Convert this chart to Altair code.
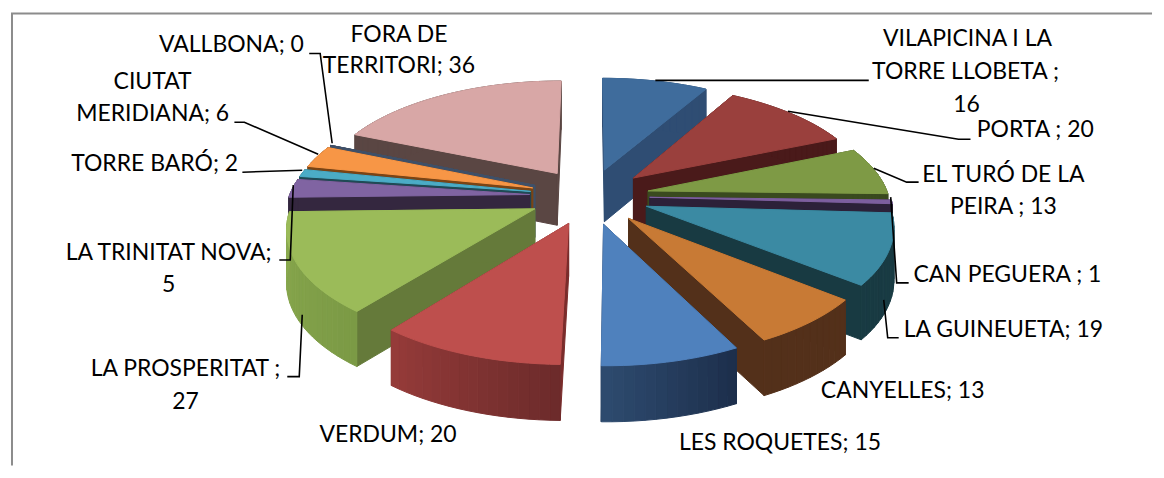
import numpy as np
import pandas as pd
import altair as alt

# ---- data ----
names = ["VILAPICINA I LA TORRE LLOBETA", "PORTA", "EL TURÓ DE LA PEIRA", "CAN PEGUERA",
         "LA GUINEUETA", "CANYELLES", "LES ROQUETES", "VERDUM", "LA PROSPERITAT",
         "LA TRINITAT NOVA", "TORRE BARÓ", "CIUTAT MERIDIANA", "VALLBONA", "FORA DE TERRITORI"]
values = [16, 20, 13, 1, 19, 13, 15, 20, 27, 5, 2, 6, 0, 36]

# ---- styles ----
top_colors = ["#3F6C9C", "#9A403D", "#7E9A45", "#7D5F9F", "#3B8AA3", "#C87A35", "#4F81BD",
              "#BE4F4D", "#9BBB59", "#8064A2", "#4BACC6", "#F79646", "#3F5068", "#D8A7A6"]
wall_colors = ["#2F4D73", "#4A1A1A", "#3A4A1F", "#2C2139", "#183A42", "#53301A", "#1F3350",
               "#7A2C2B", "#657A3A", "#34273F", "#1F4A55", "#7A4415", "#3F5068", "#5A4643"]
rim_start = ["#2F4D73", "#4A1A1A", "#3A4A1F", "#2C2139", "#1A3C44", "#53301A", "#1D2F4C",
             "#6D2B2B", "#7B9A45", "#34273F", "#1F4A55", "#7A4415", "#3F5068", "#5A4643"]
rim_end = ["#2F4D73", "#4A1A1A", "#3A4A1F", "#2C2139", "#183A42", "#53301A", "#2D4A6E",
           "#953B39", "#8BAA4F", "#34273F", "#1F4A55", "#7A4415", "#3F5068", "#5A4643"]
# back-to-front painting order (slice indices)
paint_order = [13, 12, 11, 10, 9, 8, 0, 1, 2, 3, 4, 5, 7, 6]

# ---- projection of the tilted, exploded disc into the plot scale ----
CX, CY, W, H, P, EXPLODE = 588.0, 196.0, 241.0, 112.2, 0.1444, 0.25


def project(u, v, lower=False):
    k = 1 + P * v
    x = CX + W * u / k
    y = CY - H * v / k
    if lower:
        y += 52.5 - 3 * v
    return x, y


def hex_mix(a, b, f):
    ca = [int(a[i:i + 2], 16) for i in (1, 3, 5)]
    cb = [int(b[i:i + 2], 16) for i in (1, 3, 5)]
    return "#%02X%02X%02X" % tuple(round(p + (q - p) * f) for p, q in zip(ca, cb))


rows = []
pid = 0


def add_polygon(points, color):
    global pid
    for i, (x, y) in enumerate(points + points[:1]):
        rows.append({"pid": pid, "i": i, "x": x, "y": y, "c": color})
    pid += 1


cum = np.cumsum([0] + values) / sum(values) * 2 * np.pi
for s in paint_order:
    t0, t1 = cum[s], cum[s + 1]
    mid = (t0 + t1) / 2
    au, av = EXPLODE * np.sin(mid), EXPLODE * np.cos(mid)
    n = max(2, int(np.degrees(t1 - t0) / 2.0) + 1)
    ts = np.linspace(t0, t1, n)
    rim_uv = [(au + np.sin(t), av + np.cos(t)) for t in ts]
    # radial walls
    for (u, v) in (rim_uv[0], rim_uv[-1]):
        add_polygon([project(au, av), project(u, v), project(u, v, True), project(au, av, True)],
                    wall_colors[s])
    # outer rim, shaded across the slice
    for j in range(len(rim_uv) - 1):
        a, b = rim_uv[j], rim_uv[j + 1]
        add_polygon([project(*a), project(*b), project(*b, True), project(*a, True)],
                    hex_mix(rim_start[s], rim_end[s], j / max(1, len(rim_uv) - 2)))
    # top face
    add_polygon([project(au, av)] + [project(u, v) for u, v in rim_uv], top_colors[s])

poly = pd.DataFrame(rows)

# ---- annotation layout (screen pixels) ----
label_lines = [
    ("VILAPICINA I LA", 967, 38), ("TORRE LLOBETA ;", 965, 72), ("16", 966, 105),
    ("PORTA ; 20", 1035, 130), ("EL TURÓ DE LA", 1003, 175), ("PEIRA ; 13", 1003, 207),
    ("CAN PEGUERA ; 1", 1007, 275), ("LA GUINEUETA; 19", 1003, 330),
    ("CANYELLES; 13", 902, 391), ("LES ROQUETES; 15", 779, 444), ("VERDUM; 20", 386, 436),
    ("LA PROSPERITAT ;", 183, 369), ("27", 183, 402),
    ("LA TRINITAT NOVA;", 166, 253), ("5", 166, 285), ("TORRE BARÓ; 2", 152, 164),
    ("CIUTAT", 150, 82), ("MERIDIANA; 6", 150, 114), ("VALLBONA; 0", 229, 45),
    ("FORA DE", 397, 34), ("TERRITORI; 36", 397, 66),
]
leaders = [
    [(654, 80), (868, 80)],
    [(787, 111), (958, 139), (970, 139)],
    [(873, 168), (906, 182), (918, 182)],
    [(890, 197), (896, 283), (908, 283)],
    [(883, 300), (887, 338), (898, 338)],
    [(291, 185), (288, 260), (277, 260)],
    [(300, 315), (297, 377), (285, 377)],
    [(300, 170), (240, 172)],
    [(316, 154), (242, 122), (232, 122)],
    [(330, 143), (318, 53), (307, 53)],
]
frame = [[(9, 466), (9, 13), (1152, 13)]]


def path_frame(paths):
    return pd.DataFrame([{"k": k, "i": i, "x": x, "y": y}
                         for k, p in enumerate(paths) for i, (x, y) in enumerate(p)])


xs = alt.X("x:Q", scale=alt.Scale(domain=[8, 1154], nice=False, zero=False), axis=None)
ys = alt.Y("y:Q", scale=alt.Scale(domain=[468, 8], nice=False, zero=False), axis=None)

slices = alt.Chart(poly).mark_line(strokeWidth=1, strokeJoin="round", interpolate="linear").encode(
    x=xs, y=ys, detail="pid:N", order="i:Q",
    fill=alt.Fill("c:N", scale=None), stroke=alt.Stroke("c:N", scale=None))

leader_layer = alt.Chart(path_frame(leaders)).mark_line(color="#000000", strokeWidth=1.6).encode(
    x=xs, y=ys, detail="k:N", order="i:Q")

frame_layer = alt.Chart(path_frame(frame)).mark_line(color="#8C8C8C", strokeWidth=2).encode(
    x=xs, y=ys, detail="k:N", order="i:Q")

text_layer = alt.Chart(pd.DataFrame(label_lines, columns=["t", "x", "y"])).mark_text(
    font="Lato", fontSize=23, color="#000000", align="center", baseline="middle").encode(
    x=xs, y=ys, text="t:N")

chart = alt.layer(frame_layer, slices, leader_layer, text_layer).properties(
    width=1146, height=460, padding=0
).configure_view(stroke=None)

chart.save("out.html", embed_options={"renderer": "svg", "actions": False})
